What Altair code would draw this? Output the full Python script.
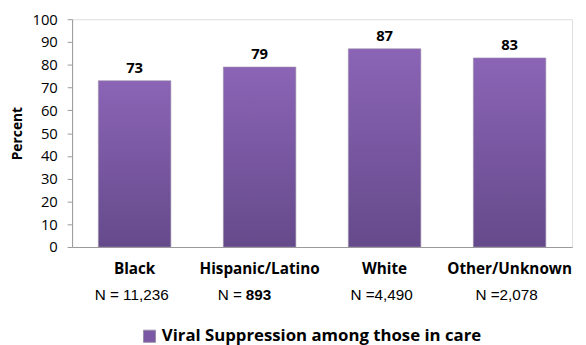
import altair as alt
import pandas as pd

categories = ["Black", "Hispanic/Latino", "White", "Other/Unknown"]
values = [73, 79, 87, 83]
n_prefix = ["N = ", "N = ", "N =", "N ="]
n_numbers = ["11,236", "893", "4,490", "2,078"]
n_bold = [False, True, False, False]
y_ticks = [0, 10, 20, 30, 40, 50, 60, 70, 80, 90, 100]
series_name = "Viral Suppression among those in care"

df = pd.DataFrame({
    "cat": categories,
    "val": values,
    "prefix": n_prefix,
    "num": n_numbers,
    "bold": n_bold,
    "series": [series_name] * len(categories),
})
df["full"] = df["prefix"] + df["num"]

H = 231
W = 507

x = alt.X("cat:N", sort=categories, title=None,
          scale=alt.Scale(paddingInner=0.42, paddingOuter=0.21),
          axis=alt.Axis(labelAngle=0, ticks=False, domainColor="#999999",
                        labelFont="Open Sans", labelFontWeight="bold",
                        labelFontSize=15.5, labelColor="#000000", labelPadding=15,
                        labelLimit=0))

y = alt.Y("val:Q", title="Percent",
          scale=alt.Scale(domain=[0, 100]),
          axis=alt.Axis(values=y_ticks, grid=False, labelOverlap=False,
                        domainColor="#999999", tickColor="#999999", tickSize=5,
                        labelFont="Open Sans", labelFontSize=15, labelColor="#000000",
                        labelPadding=10,
                        titleFont="Open Sans", titleFontWeight="bold", titleFontSize=14,
                        titleColor="#000000", titlePadding=8))

grad = alt.Gradient(
    gradient="linear",
    stops=[alt.GradientStop(color="#8b64b6", offset=0),
           alt.GradientStop(color="#654a8b", offset=1)],
    x1=0, x2=0, y1=0, y2=1,
)

base = alt.Chart(df)

bars = base.mark_bar(fill=grad, stroke="#9a8fa8", strokeWidth=1, strokeOpacity=0.6).encode(
    x=x,
    y=y,
    color=alt.Color("series:N", scale=alt.Scale(range=["#7a58a3"]),
                    legend=alt.Legend(title=None, orient="none", legendX=70, legendY=313,
                                      symbolType="square", symbolSize=150,
                                      symbolStrokeColor="#9a8fa8", symbolStrokeWidth=1,
                                      labelFont="Open Sans", labelFontWeight="bold",
                                      labelFontSize=17, labelColor="#000000",
                                      labelLimit=0)),
)

value_labels = base.mark_text(font="Open Sans", fontWeight="bold", fontSize=15,
                              color="#000000", baseline="alphabetic", dy=-8).encode(
    x=x,
    y=y,
    text=alt.Text("val:Q"),
)

n_plain = base.transform_filter("!datum.bold").mark_text(
    font="Liberation Sans", fontSize=15.5, color="#000000", dx=-3).encode(
    x=x,
    y=alt.value(H + 49),
    text="full:N",
)

n_pre = base.transform_filter("datum.bold").mark_text(
    font="Liberation Sans", fontSize=15.5, color="#000000", align="right", dx=-18).encode(
    x=x,
    y=alt.value(H + 49),
    text="prefix:N",
)

n_num = base.transform_filter("datum.bold").mark_text(
    font="Liberation Sans", fontSize=15.5, fontWeight="bold", color="#000000",
    align="left", dx=-14).encode(
    x=x,
    y=alt.value(H + 49),
    text="num:N",
)

chart = alt.layer(bars, value_labels, n_plain, n_pre, n_num).properties(
    width=W, height=H,
    autosize=alt.AutoSizeParams(type="none"),
    padding={"left": 65, "top": 9, "right": 6, "bottom": 97},
).configure_view(stroke=None).configure(background="#ffffff")

chart.save("out.html", embed_options={"renderer": "svg", "actions": False})
